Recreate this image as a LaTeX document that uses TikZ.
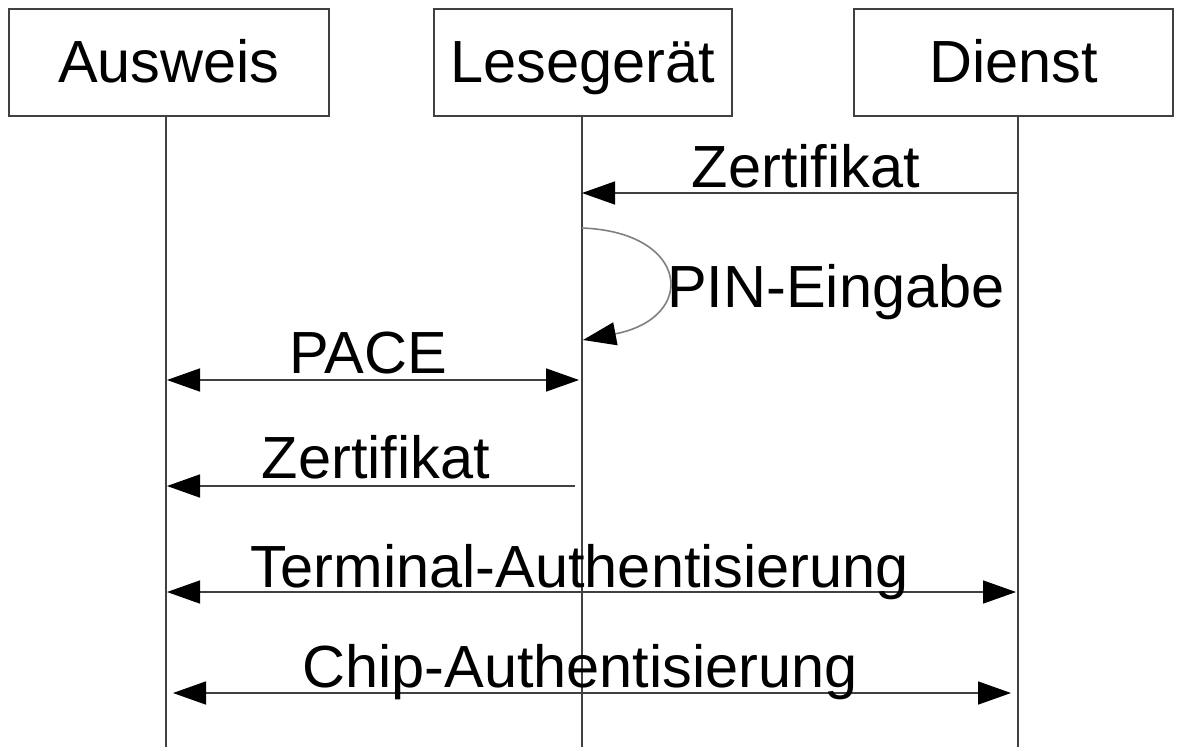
\documentclass[tikz,border=0pt]{standalone}
\usepackage{fontspec}
\setmainfont{Liberation Sans}
\usetikzlibrary{arrows.meta}
\definecolor{linegray}{HTML}{404040}
\definecolor{loopgray}{HTML}{808080}
\begin{document}
\begin{tikzpicture}[x=1pt,y=-1pt,
  bigfont/.style={font=\fontsize{59.5}{70}\selectfont},
  actor/.style={draw=linegray, line width=1.6pt, fill=white, inner sep=0pt,
    minimum height=107pt, text height=45pt, text depth=6pt, bigfont},
  lifeline/.style={draw=linegray, line width=1.6pt},
  tip/.tip={Triangle[length=33pt,width=23pt,fill=black,color=black]},
  msg/.style={draw=linegray, line width=1.6pt, -tip},
  dmsg/.style={draw=linegray, line width=1.6pt, tip-tip},
  selfmsg/.style={draw=loopgray, line width=1.6pt, -tip},
  lbl/.style={bigfont, inner sep=0pt, anchor=base}
]
\useasboundingbox (0,0) rectangle (1182,747);
\fill[white] (0,0) rectangle (1182,747);

% actors
\node[actor, minimum width=320pt] (ausweis) at (169,62.5) {Ausweis};
\node[actor, minimum width=298pt] (leser) at (583,62.5) {Lesegerät};
\node[actor, minimum width=319pt] (dienst) at (1013.5,62.5) {Dienst};

% lifelines
\coordinate (a0) at (166,116);  \coordinate (a1) at (166,747);
\coordinate (l0) at (582,116);  \coordinate (l1) at (582,747);
\coordinate (d0) at (1018,116); \coordinate (d1) at (1018,747);
\draw[lifeline] (a0) -- (a1);
\draw[lifeline] (l0) -- (l1);
\draw[lifeline] (d0) -- (d1);

% message end points
\coordinate (z1s) at (1018,193); \coordinate (z1e) at (582,193);
\coordinate (p0) at (582,228);   \coordinate (p1) at (583,340);
\coordinate (pa) at (167,380);   \coordinate (pb) at (579,380);
\coordinate (z2s) at (575,486);  \coordinate (z2e) at (167,486);
\coordinate (ta) at (167,592);   \coordinate (tb) at (1016,592);
\coordinate (ca) at (173,693);   \coordinate (cb) at (1011,693);

% messages
\draw[msg] (z1s) -- (z1e);
\node[lbl] (lz1) at (806,187) {Zertifikat};

\draw[selfmsg] (p0) .. controls (690,232) and (698,318) .. (p1);
\node[lbl, anchor=base west] (lpin) at (667,307) {PIN-Eingabe};

\draw[dmsg] (pa) -- (pb);
\node[lbl] (lpace) at (368,373) {PACE};

\draw[msg] (z2s) -- (z2e);
\node[lbl] (lz2) at (376,478) {Zertifikat};

\draw[dmsg] (ta) -- (tb);
\node[lbl] (lterm) at (580,587) {Terminal-Authentisierung};

\draw[dmsg] (ca) -- (cb);
\node[lbl] (lchip) at (580,687) {Chip-Authentisierung};
\end{tikzpicture}
\end{document}
